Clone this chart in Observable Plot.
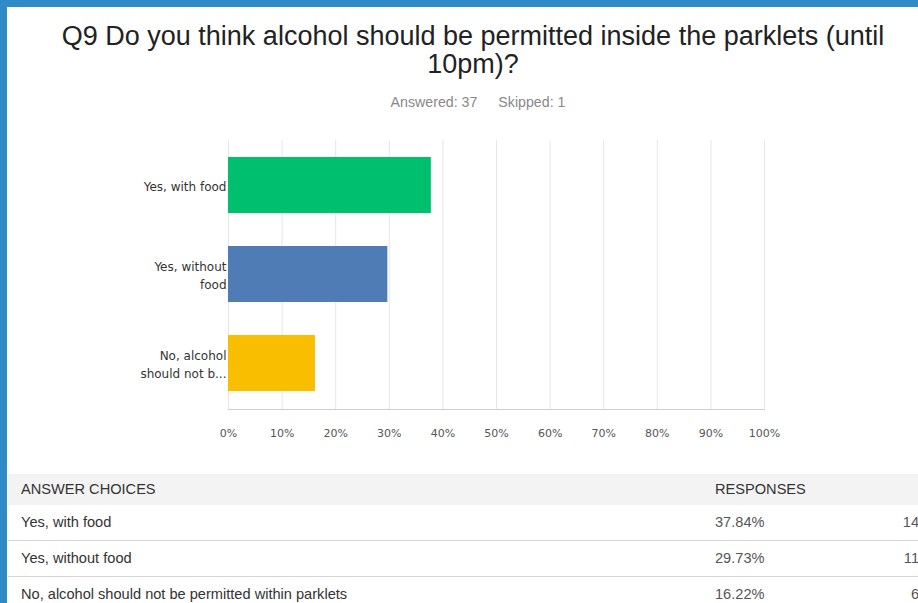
<!DOCTYPE html>
<html>
<head>
<meta charset="utf-8">
<script src="https://cdn.jsdelivr.net/npm/d3@7"></script>
<script src="https://cdn.jsdelivr.net/npm/@observablehq/plot@0.6"></script>
<style>
  html, body { margin: 0; padding: 0; }
  body { width: 918px; height: 603px; position: relative; overflow: hidden; background: #fff;
         font-family: "Liberation Sans", Arial, sans-serif; }
  .bar-top { position: absolute; left: 0; top: 0; width: 918px; height: 7px; background: #2f8bc8; }
  .bar-left { position: absolute; left: 0; top: 0; width: 7px; height: 603px; background: #2f8bc8; }
  #title { position: absolute; left: 8px; top: 22px; width: 930px; text-align: center;
           font-size: 27px; line-height: 28px; color: #222; }
  #sub { position: absolute; left: 8px; top: 94px; width: 940px; text-align: center;
         font-size: 14.2px; color: #888; }
  #sub span + span { margin-left: 21px; }
  #chart { position: absolute; left: 0; top: 130px; }
  #table { position: absolute; left: 8px; top: 474px; width: 930px; font-size: 14.6px; color: #333; }
  .row { position: relative; height: 35px; border-bottom: 1px solid #d6d6d6; }
  .row.head { height: 31px; background: #f3f3f3; border-bottom: none; }
  .row div { position: absolute; top: 0; line-height: 35px; white-space: nowrap; }
  .row.head div { line-height: 31px; }
  .c1 { left: 13px; }
  .c2 { left: 707px; color: #555; }
  .c3 { right: 19px; text-align: right; color: #555; }
  .row:last-child { border-bottom: none; }
</style>
</head>
<body>
<div class="bar-top"></div>
<div class="bar-left"></div>
<div id="title">Q9 Do you think alcohol should be permitted inside the parklets (until<br>10pm)?</div>
<div id="sub"><span>Answered: 37</span><span>Skipped: 1</span></div>
<div id="chart"></div>
<div id="table"></div>
<script>
const categories = [
  "Yes, with food",
  "Yes, without food",
  "No, alcohol should not be permitted within parklets"
];
const axisLabels = ["Yes, with food", "Yes, without\nfood", "No, alcohol\nshould not b..."];
const percents = [37.84, 29.73, 16.22];
const counts = [14, 11, 6];
const colors = ["#00bf6f", "#507cb6", "#f9be00"];
const xTicks = [0, 10, 20, 30, 40, 50, 60, 70, 80, 90, 100];

const data = categories.map((c, i) => ({cat: c, label: axisLabels[i], pct: percents[i], color: colors[i]}));

const chart = Plot.plot({
  width: 918,
  height: 320,
  marginLeft: 228,
  marginRight: 154,
  marginTop: 10,
  marginBottom: 41,
  style: {fontFamily: "'DejaVu Sans', sans-serif", fontSize: "11px", color: "#444", background: "transparent"},
  x: {domain: [0, 100], ticks: xTicks, label: null},
  y: {domain: categories, paddingInner: 0.367, paddingOuter: 0.178, axis: null},
  marks: [
    Plot.gridX(xTicks, {stroke: "#e6e6e6", strokeOpacity: 1}),
    Plot.barX(data, {x: "pct", y: "cat", fill: "color"}),
    Plot.frame({anchor: "bottom", stroke: "#cfcfcf"}),
    Plot.axisX({ticks: xTicks, tickSize: 0, tickPadding: 20, tickFormat: d => d + "%", fill: "#555", fontSize: 11, label: null}),
    Plot.text(data, {x: 0, y: "cat", text: "label", textAnchor: "end", dx: -2, lineHeight: 1.5, fill: "#333", fontSize: 12})
  ]
});
document.getElementById("chart").appendChild(chart);

const table = document.getElementById("table");
const head = document.createElement("div");
head.className = "row head";
head.innerHTML = '<div class="c1">ANSWER CHOICES</div><div class="c2" style="color:#333">RESPONSES</div>';
table.appendChild(head);
categories.forEach((c, i) => {
  const r = document.createElement("div");
  r.className = "row";
  r.innerHTML = `<div class="c1">${c}</div><div class="c2">${percents[i].toFixed(2)}%</div><div class="c3">${counts[i]}</div>`;
  table.appendChild(r);
});
</script>
</body>
</html>
